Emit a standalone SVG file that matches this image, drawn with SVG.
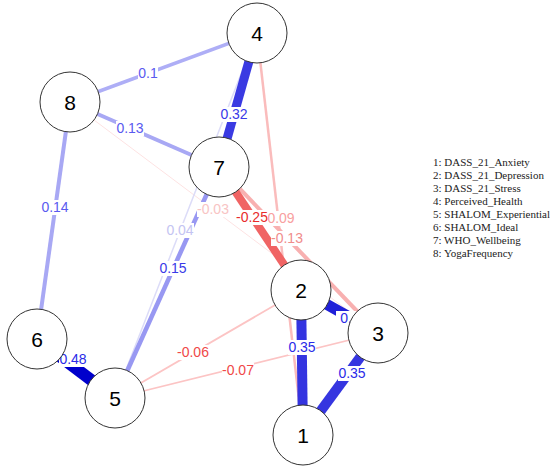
<svg xmlns="http://www.w3.org/2000/svg" width="550" height="469" viewBox="0 0 550 469">
<style>
.node circle{fill:#fff;stroke:#333;stroke-width:1}
.node text{font-family:"Liberation Sans",Arial,sans-serif;font-size:21px;text-anchor:middle;dominant-baseline:central;fill:#000}
.edges line{stroke-linecap:butt}
.lbl rect{fill:#fff}
.lbl text{font-family:"Liberation Sans",Arial,sans-serif;font-size:14px;text-anchor:middle;dominant-baseline:central}
.legend text{font-family:"Liberation Serif","Times New Roman",serif;font-size:11px;fill:#222}
</style>
<rect width="550" height="469" fill="#fff"/>
<g id="connectors" class="edges">
  <line x1="70" y1="102" x2="378" y2="333" stroke="#fde2e2" stroke-width="1"/>
  <line x1="115" y1="398" x2="257" y2="33" stroke="#dcdcf8" stroke-width="1.5"/>
  <line x1="115" y1="398" x2="301" y2="290" stroke="#fcc4c4" stroke-width="1.8"/>
  <line x1="115" y1="398" x2="378" y2="333" stroke="#fcc4c4" stroke-width="1.8"/>
  <line x1="257" y1="33" x2="303" y2="435" stroke="#fabcbc" stroke-width="2.5"/>
  <line x1="257" y1="33" x2="70" y2="102" stroke="#aeaef6" stroke-width="3.5"/>
  <line x1="70" y1="102" x2="219" y2="167" stroke="#a8a8f4" stroke-width="4"/>
  <line x1="70" y1="102" x2="37" y2="339" stroke="#a8a8f4" stroke-width="4"/>
  <line x1="219" y1="167" x2="378" y2="333" stroke="#f8b0b0" stroke-width="4"/>
  <line x1="219" y1="167" x2="115" y2="398" stroke="#9898f2" stroke-width="4.5"/>
  <line x1="219" y1="167" x2="301" y2="290" stroke="#f06464" stroke-width="8"/>
  <line x1="257" y1="33" x2="219" y2="167" stroke="#3a3ae2" stroke-width="9"/>
  <line x1="301" y1="290" x2="303" y2="435" stroke="#3434e0" stroke-width="10"/>
  <line x1="378" y1="333" x2="303" y2="435" stroke="#3636e0" stroke-width="10"/>
  <line x1="301" y1="290" x2="378" y2="333" stroke="#2020d8" stroke-width="11"/>
  <line x1="37" y1="339" x2="115" y2="398" stroke="#0000cc" stroke-width="12"/>
</g>
<g id="edge-labels" class="lbl">
  <rect x="138" y="66" width="20" height="15"/><text x="148" y="73" fill="#5a5af0">0.1</text>
  <rect x="220" y="107" width="28" height="15"/><text x="234" y="114" fill="#3a3ae8">0.32</text>
  <rect x="116" y="121" width="28" height="15"/><text x="130" y="128" fill="#5a5af0">0.13</text>
  <rect x="41" y="200" width="28" height="15"/><text x="55" y="207" fill="#5a5af0">0.14</text>
  <rect x="166" y="223" width="28" height="15"/><text x="180" y="230" fill="#c4c4f2">0.04</text>
  <rect x="159" y="261" width="28" height="15"/><text x="173" y="268" fill="#3a3ae8">0.15</text>
  <rect x="197" y="202" width="32" height="15"/><text x="213" y="209" fill="#f8c4c4">-0.03</text>
  <rect x="267" y="211" width="28" height="15"/><text x="281" y="218" fill="#f8a0a0">0.09</text>
  <rect x="236" y="210" width="32" height="15"/><text x="252" y="217" fill="#e82c2c">-0.25</text>
  <rect x="271" y="231" width="32" height="15"/><text x="287" y="238" fill="#f08c8c">-0.13</text>
  <rect x="177" y="345" width="32" height="15"/><text x="193" y="352" fill="#f04848">-0.06</text>
  <rect x="222" y="363" width="32" height="15"/><text x="238" y="370" fill="#f04848">-0.07</text>
  <rect x="59" y="352" width="28" height="15"/><text x="73" y="359" fill="#2a2ae8">0.48</text>
  <rect x="336" y="311" width="20" height="15"/><text x="346" y="318" fill="#2a2ae8">0.</text>
  <rect x="288" y="340" width="28" height="15"/><text x="302" y="347" fill="#2a2ae8">0.35</text>
  <rect x="338" y="366" width="28" height="15"/><text x="352" y="373" fill="#2a2ae8">0.35</text>
</g>
<g id="node4" class="node"><circle cx="257" cy="33" r="30"/><text x="257" y="33">4</text></g>
<g id="node8" class="node"><circle cx="70" cy="102" r="30"/><text x="70" y="102">8</text></g>
<g id="node7" class="node"><circle cx="219" cy="167" r="30"/><text x="219" y="167">7</text></g>
<g id="node2" class="node"><circle cx="301" cy="290" r="30"/><text x="301" y="290">2</text></g>
<g id="node3" class="node"><circle cx="378" cy="333" r="30"/><text x="378" y="333">3</text></g>
<g id="node1" class="node"><circle cx="303" cy="435" r="30"/><text x="303" y="435">1</text></g>
<g id="node6" class="node"><circle cx="37" cy="339" r="30"/><text x="37" y="339">6</text></g>
<g id="node5" class="node"><circle cx="115" cy="398" r="30"/><text x="115" y="398">5</text></g>
<g id="legend" class="legend">
  <text x="433" y="166">1: DASS_21_Anxiety</text>
  <text x="433" y="179">2: DASS_21_Depression</text>
  <text x="433" y="192">3: DASS_21_Stress</text>
  <text x="433" y="205">4: Perceived_Health</text>
  <text x="433" y="218">5: SHALOM_Experiential</text>
  <text x="433" y="231">6: SHALOM_Ideal</text>
  <text x="433" y="244">7: WHO_Wellbeing</text>
  <text x="433" y="257">8: YogaFrequency</text>
</g>
</svg>
